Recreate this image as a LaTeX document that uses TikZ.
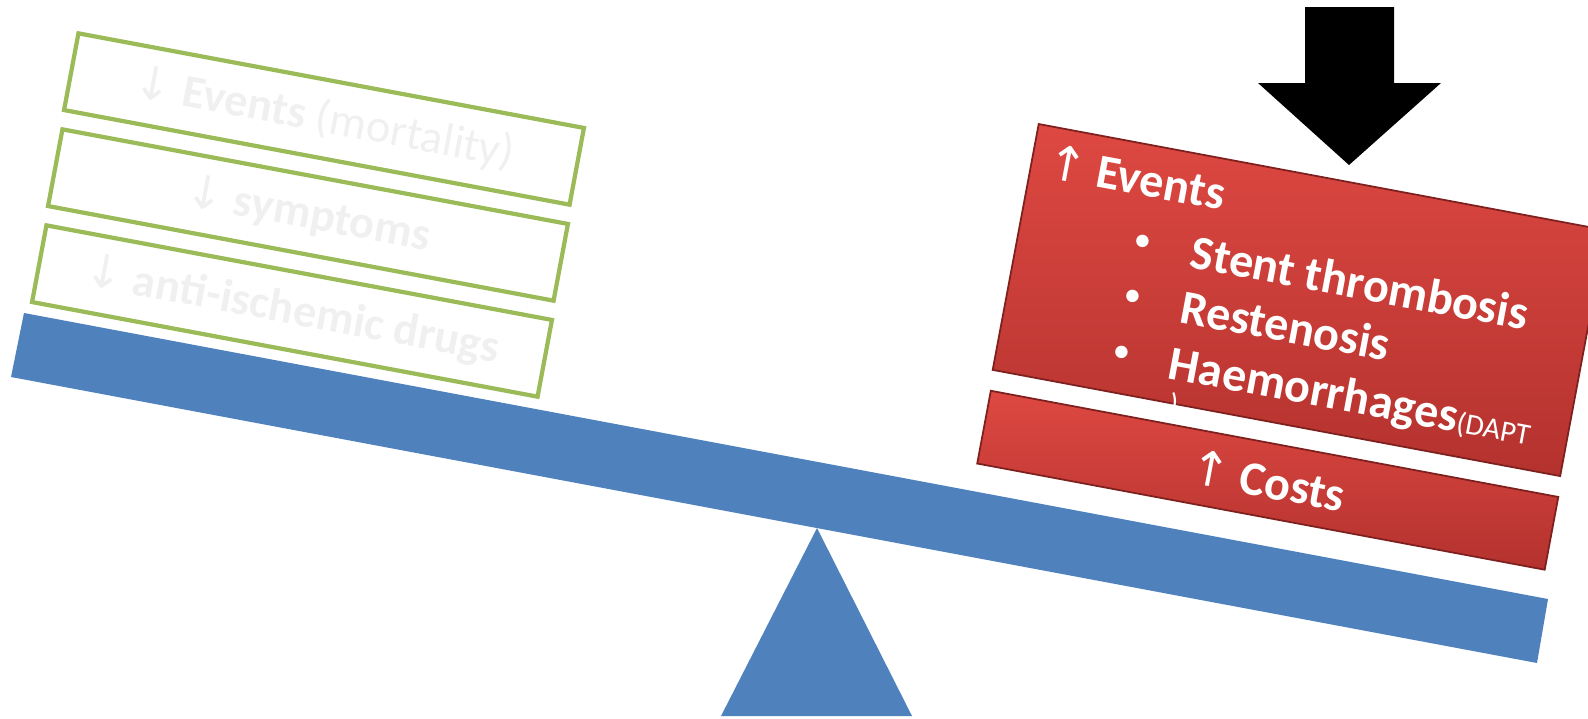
\documentclass[tikz,border=0pt]{standalone}
\usepackage{fontspec}
\setmainfont{Carlito}
\newfontfamily\arrowfont{DejaVu Sans}
\definecolor{beamblue}{RGB}{79,129,189}
\definecolor{boxgreen}{RGB}{155,187,89}
\definecolor{palegray}{RGB}{240,240,240}
\definecolor{redlight}{RGB}{222,72,66}
\definecolor{reddark}{RGB}{180,50,46}
\definecolor{rededge}{RGB}{125,32,30}
\newcommand{\downsym}{{\arrowfont\mdseries ↓}}
\newcommand{\upsym}{{\arrowfont\mdseries ↑}}

\begin{document}
\begin{tikzpicture}[x=0.01cm, y=-0.01cm,
    every node/.style={font=\bfseries\fontsize{13.7}{16}\selectfont},
    greenbox/.style={draw=boxgreen, line width=1.2pt, text=palegray, rotate=-10.6,
      minimum width=5.14cm, minimum height=0.78cm, inner sep=0pt,
      font=\bfseries\fontsize{13.2}{16}\selectfont},
    redbox/.style={draw=rededge, line width=0.5pt, top color=redlight, bottom color=reddark,
      anchor=north west, minimum width=5.77cm, inner sep=0pt},
    whitetext/.style={text=white, anchor=base west, inner sep=0pt},
    bulletdot/.style={text=white, anchor=base, inner sep=0pt, font=\fontsize{10}{12}\selectfont}]

  \useasboundingbox (0,0) rectangle (1588,718);
  \clip (0,0) rectangle (1588,718);

  % 支点と天秤の腕
  \fill[beamblue] (817,528) -- (912,716) -- (721,716) -- cycle;
  \fill[beamblue] (24,313) -- (1548,599) -- (1537,663) -- (11,377) -- cycle;

  % 左の皿 (緑の枠)
  \node[greenbox] (mortality) at (324,119) {\downsym\ Events \mdseries(mortality)};
  \node[greenbox] (symptoms) at (308,215) {\downsym\ symptoms};
  \node[greenbox] (drugs) at (292,311) {\downsym\ anti-ischemic drugs};

  % 右の皿 (赤の箱, 左上隅を原点にして傾ける)
  \begin{scope}[shift={(1038,123)}, rotate=-10.6, transform shape]
    \node[redbox, minimum height=2.5cm] (events) at (0,0) {};
    \node[redbox, minimum height=0.74cm] (costs) at (2,271) {};
    \node[whitetext] (eventshead) at (16,52) {\upsym\hspace{0.2em}Events};
    \node[bulletdot] (bullet1) at (125,107) {•};
    \node[bulletdot] (bullet2) at (125,163) {•};
    \node[bulletdot] (bullet3) at (125,220) {•};
    \node[whitetext] (stent) at (174,114) {Stent thrombosis};
    \node[whitetext] (restenosis) at (174,170) {Restenosis};
    \node[whitetext] (haem) at (173,227) {Haemorrhages{\mdseries\fontsize{8.5}{10}\selectfont(DAPT}};
    \node[whitetext, font=\fontsize{8.5}{10}\selectfont] (closing) at (180,262) {)};
    \node[text=white] (coststext) at (costs.center) {\upsym\ Costs};
  \end{scope}

  % 右の皿を押す矢印
  \fill (1305,7) -- (1394,7) -- (1394,83) -- (1441,83) -- (1349,165) -- (1258,83) -- (1305,83) -- cycle;

\end{tikzpicture}
\end{document}
